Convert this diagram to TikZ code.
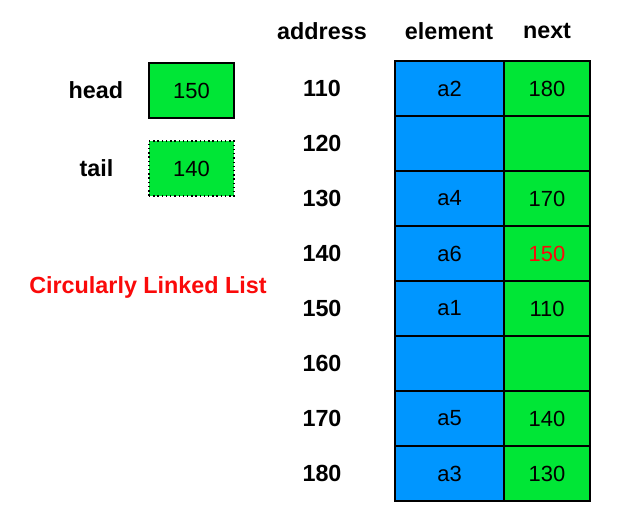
\documentclass[tikz,border=0pt]{standalone}
\usepackage{fontspec}
\setmainfont{Liberation Sans}
\usetikzlibrary{positioning}
\definecolor{elemblue}{RGB}{0,150,255}
\definecolor{nextgreen}{RGB}{0,230,54}
\definecolor{listred}{RGB}{250,10,10}

\tikzset{
	cell/.style={draw, line width=1.4pt, inner sep=0pt, minimum height=1.375cm, font=\fontsize{15.6}{18}\selectfont},
	elemcell/.style={cell, fill=elemblue, minimum width=2.725cm},
	nextcell/.style={cell, fill=nextgreen, minimum width=2.15cm},
	ptrbox/.style={cell, fill=nextgreen, minimum width=2.125cm},
	boldtext/.style={font=\fontsize{16.6}{20}\selectfont\bfseries}
}

\begin{document}
\begin{tikzpicture}[x=0.025cm, y=-0.025cm]
			%%%%% START %%%%%
			\useasboundingbox (0, 0) rectangle (623, 520);
			
			\node[boldtext] (addrhead) at (322, 31) {address};
			\node[boldtext] (elemhead) at (449, 31) {element};
			\node[boldtext] (nexthead) at (547, 31) {next};
			
			\foreach \addr/\elem/\nxt/\col [count=\i] in {110/a2/180/black, 120///black, 130/a4/170/black, 140/a6/150/listred, 150/a1/110/black, 160///black, 170/a5/140/black, 180/a3/130/black}{
				\node[boldtext] (addr\i) at (322, 33.5+55*\i) {\addr};
				\node[elemcell] (elem\i) at (449.5, 33.5+55*\i) {\elem};
				\node[nextcell, text=\col] (next\i) at (547, 33.5+55*\i) {\nxt};
			}
			
			\node[ptrbox] (headbox) at (191.5, 90.5) {150};
			\node[ptrbox, line width=1pt, dotted] (tailbox) at (191.5, 168.5) {140};
			\node[boldtext, left=0.5cm of headbox] (headlbl) {head};
			\node[boldtext, left=0.75cm of tailbox] (taillbl) {tail};
			
			\node[boldtext, text=listred] (title) at (148, 287) {Circularly Linked List};
			%%%%% END %%%%%
\end{tikzpicture}
\end{document}
